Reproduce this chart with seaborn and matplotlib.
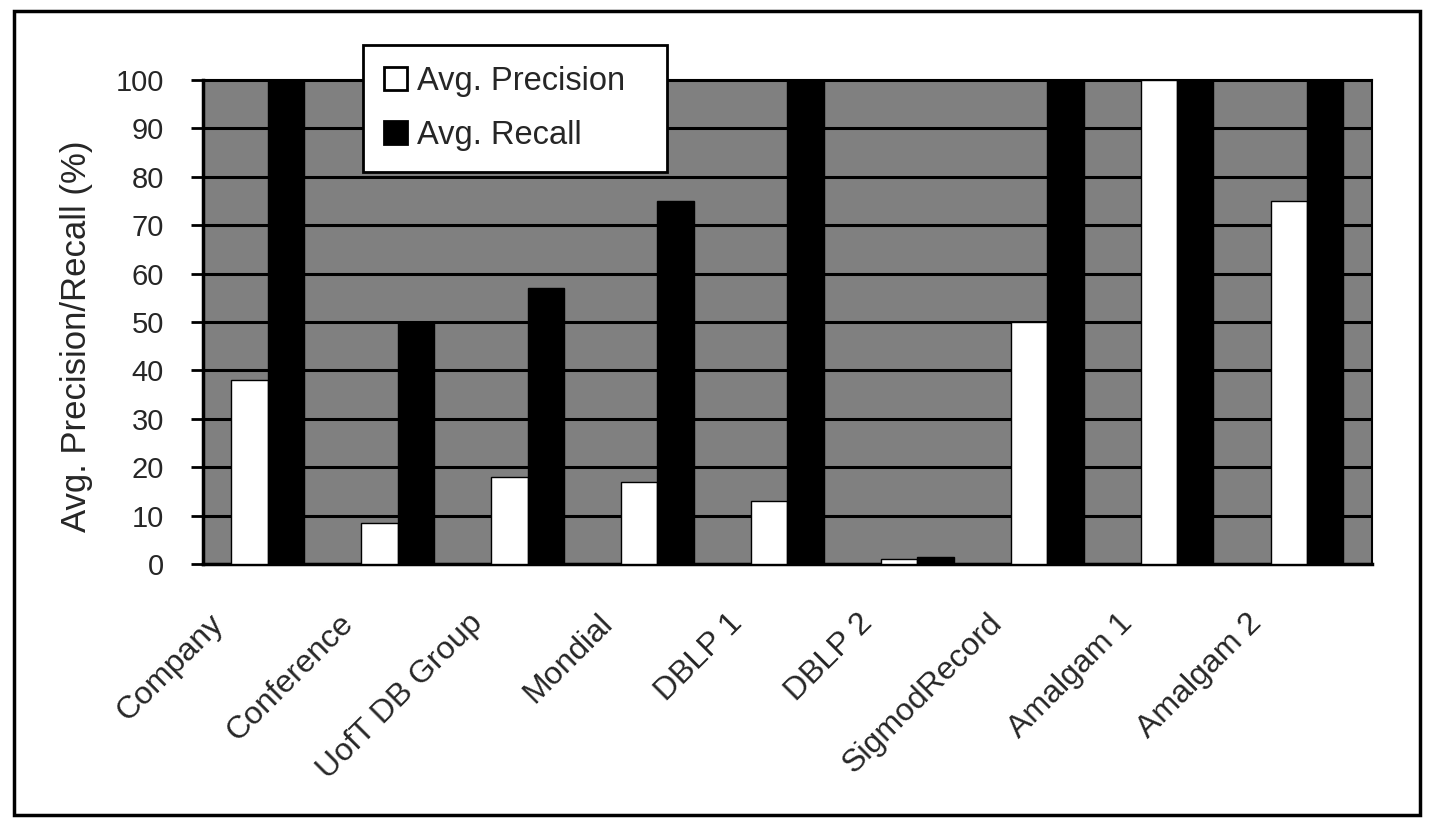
import pandas as pd
import matplotlib.pyplot as plt
import matplotlib.transforms as mtransforms
import seaborn as sns
from matplotlib.patches import Rectangle

datasets = ["Company", "Conference", "UofT DB Group", "Mondial", "DBLP 1",
            "DBLP 2", "SigmodRecord", "Amalgam 1", "Amalgam 2"]
precision = [38, 8.5, 18, 17, 13, 1, 50, 100, 75]
recall = [100, 50, 57, 75, 100, 1.5, 100, 100, 100]
series = ["Avg. Precision", "Avg. Recall"]

df = pd.DataFrame({
    "dataset": datasets * 2,
    "value": precision + recall,
    "measure": [series[0]] * len(datasets) + [series[1]] * len(datasets),
})

sns.set_style("white")
plt.rcParams["font.family"] = ["Liberation Sans", "DejaVu Sans"]

fig = plt.figure(figsize=(14.29, 8.24), dpi=100)
ax = fig.add_axes([0.142, 0.3155, 0.818, 0.5875])
ax.set_facecolor("#808080")

sns.barplot(data=df, x="dataset", y="value", hue="measure",
            palette=["white", "black"], edgecolor="black", linewidth=1,
            width=0.56, ax=ax, zorder=3)

ax.set_ylim(0, 100)
ax.set_yticks(range(0, 101, 10))
ax.yaxis.grid(True, color="black", linewidth=2.2, zorder=1)
ax.set_axisbelow(True)
ax.tick_params(axis="y", labelsize=21, length=9, width=2, color="black",
               left=True, direction="out", pad=19)
ax.tick_params(axis="x", labelsize=23, length=0, pad=32)
# excel-style labels sit a little left of the category centre
shift = mtransforms.ScaledTranslation(-0.6, 0, fig.dpi_scale_trans)
for lab in ax.get_xticklabels():
    lab.set_rotation(45)
    lab.set_ha("right")
    lab.set_rotation_mode("anchor")
    lab.set_transform(lab.get_transform() + shift)
ax.set_xlabel("")
ax.set_ylabel("Avg. Precision/Recall (%)", fontsize=25, labelpad=16, y=0.47)
for s in ax.spines.values():
    s.set_color("black")
    s.set_linewidth(1.5)
ax.spines["left"].set_linewidth(2.5)
ax.spines["bottom"].set_linewidth(2.5)

leg = ax.legend(loc="upper left",
                bbox_to_anchor=(363 / 1429, 1 - 172 / 824, 304 / 1429, 127 / 824),
                bbox_transform=fig.transFigure, mode="expand", fontsize=23.5,
                frameon=True, fancybox=False, edgecolor="black", framealpha=1,
                handlelength=0.7, handleheight=0.7, handletextpad=0.3,
                labelspacing=0.7, borderpad=0.65, borderaxespad=0,
                title=None)
leg.get_frame().set_linewidth(2)
leg.set_zorder(10)
for h in leg.legend_handles:
    h.set_edgecolor("black")
    h.set_linewidth(2)

fig.patches.append(Rectangle((14 / 1429, 9 / 824), 1406 / 1429, 804 / 824,
                             transform=fig.transFigure, fill=False,
                             edgecolor="black", linewidth=2.5))

fig.savefig("out.png", dpi=100, facecolor="white")
